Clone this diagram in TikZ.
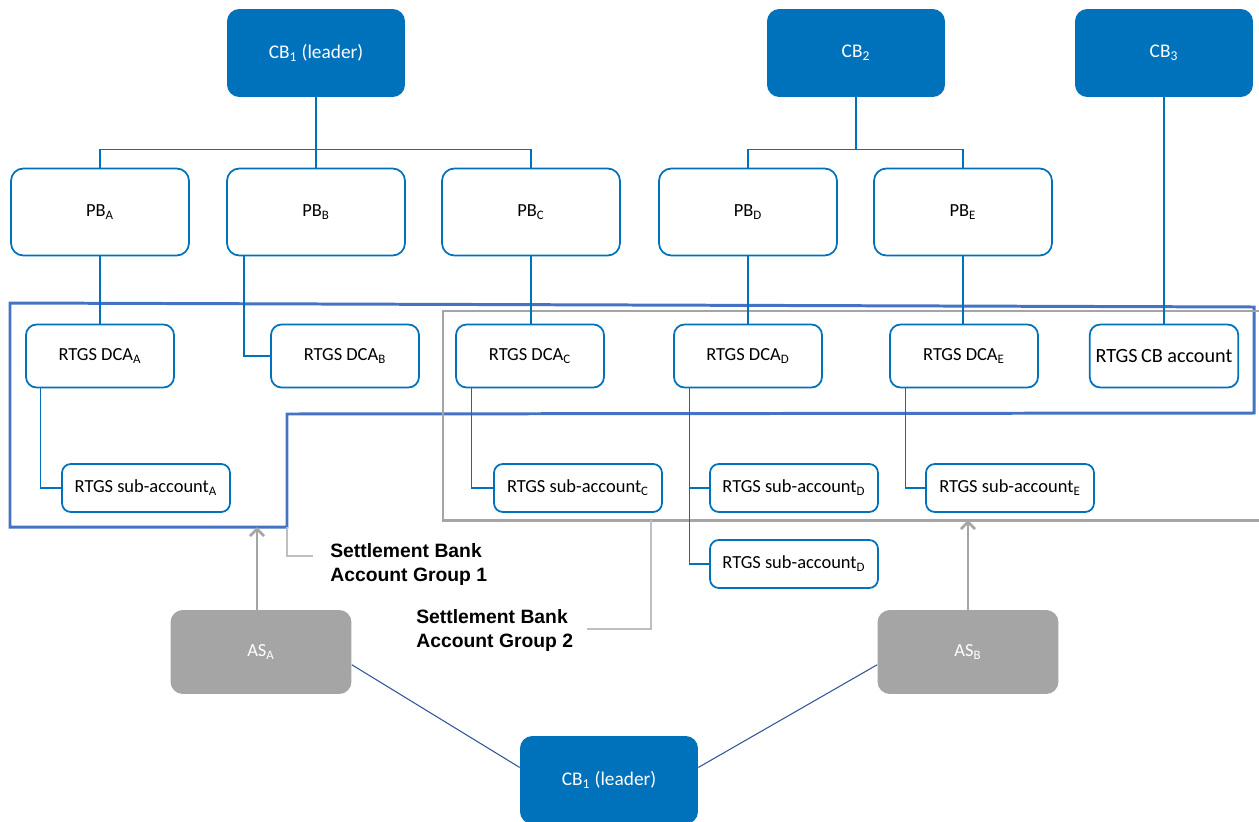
\documentclass[tikz,border=0pt]{standalone}
\usepackage{fontspec}
\setmainfont{Carlito}
\newfontfamily\groupfont{Liberation Sans}
\usepackage{tikz}
\usetikzlibrary{arrows,arrows.meta,shapes,positioning}
\usepackage{xcolor}
\definecolor{cbblue}{RGB}{0,114,188}
\definecolor{grpblue}{RGB}{68,114,196}
\definecolor{asgrey}{RGB}{165,165,165}
\definecolor{notegrey}{RGB}{191,191,191}
\definecolor{lnkblue}{RGB}{47,85,151}
\tikzstyle{cbbox} = [rectangle, rounded corners=7pt, fill=cbblue, text=white, minimum width=3.56cm, minimum height=1.76cm, font=\fontsize{11}{13}\selectfont]
\tikzstyle{pbbox} = [rectangle, rounded corners=7pt, draw=cbblue, line width=1pt, fill=white, minimum width=3.56cm, minimum height=1.74cm, font=\fontsize{10.5}{12}\selectfont]
\tikzstyle{dcabox} = [rectangle, rounded corners=6pt, draw=cbblue, line width=1pt, fill=white, minimum width=2.96cm, minimum height=1.26cm, font=\fontsize{10.5}{12}\selectfont]
\tikzstyle{subbox} = [rectangle, rounded corners=5pt, draw=cbblue, line width=1pt, fill=white, minimum width=3.36cm, minimum height=0.96cm, font=\fontsize{10.5}{12}\selectfont]
\tikzstyle{asbox} = [rectangle, rounded corners=7pt, fill=asgrey, text=white, minimum width=3.62cm, minimum height=1.68cm, font=\fontsize{10.5}{12}\selectfont]
\tikzstyle{grplabel} = [anchor=north west, inner sep=0pt, align=left, font=\groupfont\bfseries\fontsize{11}{13.6}\selectfont]
\tikzstyle{link} = [cbblue, line width=0.7pt]
\tikzstyle{aslink} = [lnkblue, line width=0.6pt]
\tikzstyle{note} = [notegrey, line width=0.6pt]
\tikzstyle{feed} = [-{Straight Barb[length=4pt,width=8pt]}, draw=asgrey, line width=1.6pt]

\begin{document}
\begin{tikzpicture}[x=0.02cm, y=-0.02cm]
\useasboundingbox (0,0) rectangle (1259,822);

% Central banks
\node[cbbox] (cbA) at (316,53) {CB\textsubscript{1} (leader)};
\node[cbbox] (cbB) at (856,53) {CB\textsubscript{2}};
\node[cbbox] (cbC) at (1164,53) {CB\textsubscript{3}};

% Payment banks
\node[pbbox] (pbA) at (100,212) {PB\textsubscript{A}};
\node[pbbox] (pbB) at (316,212) {PB\textsubscript{B}};
\node[pbbox] (pbC) at (531,212) {PB\textsubscript{C}};
\node[pbbox] (pbD) at (748,212) {PB\textsubscript{D}};
\node[pbbox] (pbE) at (963,212) {PB\textsubscript{E}};

% Account groups
\draw[grpblue, line width=1.7pt] (10,303) -- (1254,307) -- (1254,413) -- (287,414) -- (287,527) -- (10,527) -- cycle;
\draw[asgrey, line width=1.7pt] (1262,311) -- (443,311) -- (443,520) -- (1262,520);

% RTGS accounts
\node[dcabox] (dcaA) at (100,356) {RTGS DCA\textsubscript{A}};
\node[dcabox] (dcaB) at (345,356) {RTGS DCA\textsubscript{B}};
\node[dcabox] (dcaC) at (530,356) {RTGS DCA\textsubscript{C}};
\node[dcabox] (dcaD) at (748,356) {RTGS DCA\textsubscript{D}};
\node[dcabox] (dcaE) at (964,356) {RTGS DCA\textsubscript{E}};
\node[dcabox, font=\fontsize{11.5}{13}\selectfont] (cbacc) at (1164,356) {RTGS\,CB account};

% Sub-accounts
\node[subbox] (subA) at (146,488) {RTGS sub-account\textsubscript{A}};
\node[subbox] (subC) at (578,488) {RTGS sub-account\textsubscript{C}};
\node[subbox] (subD) at (794,488) {RTGS sub-account\textsubscript{D}};
\node[subbox] (subDb) at (794,564) {RTGS sub-account\textsubscript{D}};
\node[subbox] (subE) at (1010,488) {RTGS sub-account\textsubscript{E}};

% Ancillary systems
\node[asbox] (asA) at (261,652) {AS\textsubscript{A}};
\node[asbox] (asB) at (968,652) {AS\textsubscript{B}};
\node[cbbox] (cbL) at (609,780) {CB\textsubscript{1} (leader)};

% CB to PB
\draw[link] (pbA.north) -- ++(0,-18) coordinate (busA) -| (pbC.north);
\draw[link] (cbA.south) -- (pbB.north);
\draw[link] (pbD.north) -- ++(0,-18) coordinate (busD) -| (pbE.north);
\draw[link] (cbB.south) -- (cbB.south |- busD);
\draw[link] (cbC.south) -- (cbacc.north);

% PB to DCA
\draw[link] (pbA.south) -- (dcaA.north);
\draw[link] (dcaB.west) -| ([xshift=-1.44cm]pbB.south);
\draw[link] (pbC.south) -- (pbC.south |- dcaC.north);
\draw[link] (pbD.south) -- (dcaD.north);
\draw[link] (pbE.south) -- (pbE.south |- dcaE.north);

% DCA to sub-account
\draw[link] ([xshift=0.3cm]dcaA.south west) |- (subA.west);
\draw[link] ([xshift=0.32cm]dcaC.south west) |- (subC.west);
\draw[link] ([xshift=0.32cm]dcaD.south west) |- (subD.west);
\draw[link] ([xshift=0.32cm]dcaD.south west) |- (subDb.west);
\draw[link] ([xshift=0.32cm]dcaE.south west) |- (subE.west);

% Group labels
\node[grplabel] (grp1) at (330,543) {Settlement Bank\\Account Group 1};
\node[grplabel] (grp2) at (416,609) {Settlement Bank\\Account Group 2};
\coordinate (g1foot) at (287,527);
\coordinate (g1end) at (313,556);
\coordinate (g2foot) at (651,520);
\coordinate (g2end) at (587,629);
\draw[note] (g1foot) |- (g1end);
\draw[note] (g2foot) |- (g2end);

% AS links
\draw[feed] ([xshift=-0.08cm]asA.north) -- ([xshift=-0.08cm]asA.north |- g1foot);
\draw[feed] (asB.north) -- (asB.north |- g2foot);
\draw[aslink] (asA.-8) -- (cbL.172);
\draw[aslink] (asB.188) -- (cbL.8);
\end{tikzpicture}
\end{document}
